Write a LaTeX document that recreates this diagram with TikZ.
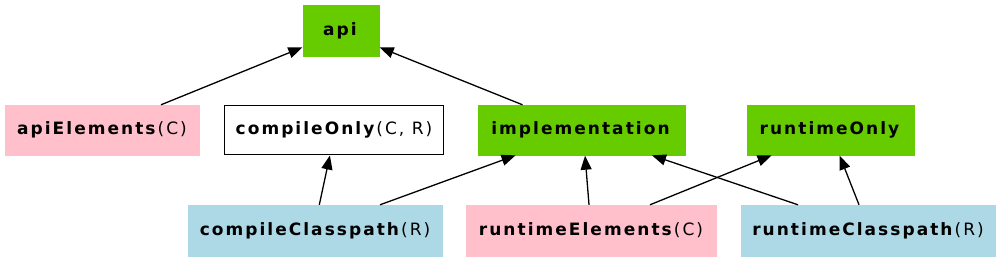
\documentclass[tikz,border=0pt]{standalone}
\usepackage{fontspec}
\setmainfont{DejaVu Sans}[LetterSpace=12]
\usetikzlibrary{arrows.meta}
\definecolor{gr}{HTML}{66CC00}
\definecolor{pk}{HTML}{FFC0CB}
\definecolor{lb}{HTML}{ADD8E6}
\tikzset{
  box/.style={rectangle, inner sep=0pt, font=\fontsize{17}{20}\selectfont, text=black},
  greenbox/.style={box, fill=gr, draw=gr},
  pinkbox/.style={box, fill=pk, draw=pk},
  bluebox/.style={box, fill=lb, draw=lb},
  whitebox/.style={box, fill=white, draw=black, line width=1pt},
  arr/.style={-{Triangle[length=14pt,width=11pt]}, line width=1.3pt, black, shorten >=0.5pt},
}
\begin{document}
\begin{tikzpicture}[x=1pt,y=-1pt]
\useasboundingbox (0,0) rectangle (1000,261);
\node[greenbox, minimum width=76pt, minimum height=51pt] (api) at (341,30.5) {\textbf{api}};
\node[pinkbox, minimum width=194pt, minimum height=50pt] (apiElements) at (102,130) {\textbf{apiElements}(C)};
\node[whitebox, minimum width=219pt, minimum height=49pt] (compileOnly) at (334,130) {\textbf{compileOnly}(C, R)};
\node[greenbox, minimum width=207pt, minimum height=50pt] (implementation) at (581.5,130) {\textbf{implementation}};
\node[greenbox, minimum width=167pt, minimum height=50pt] (runtimeOnly) at (830.5,130) {\textbf{runtimeOnly}};
\node[bluebox, minimum width=254pt, minimum height=51pt] (compileClasspath) at (315,230.5) {\textbf{compileClasspath}(R)};
\node[pinkbox, minimum width=250pt, minimum height=51pt] (runtimeElements) at (591,230.5) {\textbf{runtimeElements}(C)};
\node[bluebox, minimum width=254pt, minimum height=51pt] (runtimeClasspath) at (868,230.5) {\textbf{runtimeClasspath}(R)};
\draw[arr] ([xshift=59pt]apiElements.north) -- ([yshift=9pt]api.south west);
\draw[arr] ([xshift=-59pt]implementation.north) -- ([yshift=9pt]api.south east);
\draw[arr] ([xshift=4.3pt]compileClasspath.north) -- ([xshift=-4pt]compileOnly.south);
\draw[arr] ([xshift=65pt]compileClasspath.north) -- ([xshift=-65.5pt]implementation.south);
\draw[arr] ([xshift=-2pt]runtimeElements.north) -- ([xshift=3.5pt]implementation.south);
\draw[arr] ([xshift=59pt]runtimeElements.north) -- ([xshift=-58.5pt]runtimeOnly.south);
\draw[arr] ([xshift=-70pt]runtimeClasspath.north) -- ([xshift=70pt]implementation.south);
\draw[arr] ([xshift=-9pt]runtimeClasspath.north) -- ([xshift=9pt]runtimeOnly.south);
\end{tikzpicture}
\end{document}
